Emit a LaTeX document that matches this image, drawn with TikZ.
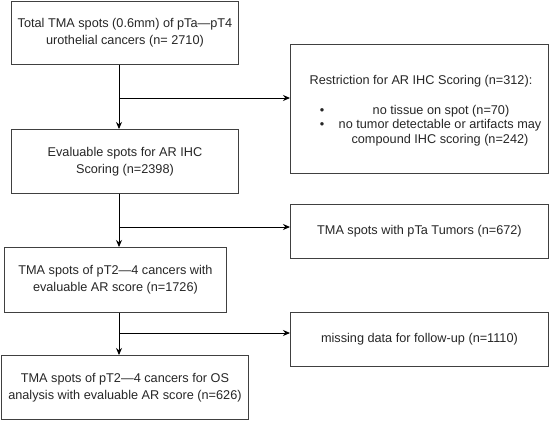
\documentclass[tikz,border=0pt]{standalone}
\usepackage{fontspec}
\setmainfont{Liberation Sans}
\usetikzlibrary{arrows.meta}
\begin{document}
\begin{tikzpicture}[x=1pt,y=-1pt,
  box/.style={draw=black!75, line width=0.9pt, anchor=north west, inner sep=0pt, align=center, font=\fontsize{12.7}{17}\selectfont, text=black!85},
  conn/.style={draw=black, line width=0.9pt},
  arr/.style={conn, -{Stealth[length=7pt,width=6pt]}},
  txt/.style={font=\fontsize{12.7}{15}\selectfont, inner sep=0pt, anchor=base, text=black!85}]
\useasboundingbox (0,0) rectangle (550,421);
\node[box, minimum width=227pt, minimum height=63pt] (b1) at (11,1) {Total TMA spots (0.6mm) of pTa—pT4\\urothelial cancers (n= 2710)};
\node[box, minimum width=258pt, minimum height=129pt] (b2) at (290,44) {};
\node[box, minimum width=227pt, minimum height=64pt] (b3) at (11,129) {Evaluable spots for AR IHC\\Scoring (n=2398)};
\node[box, minimum width=258pt, minimum height=54pt] (b4) at (290,204) {TMA spots with pTa Tumors (n=672)};
\node[box, minimum width=222pt, minimum height=65pt] (b5) at (4,247) {TMA spots of pT2—4 cancers with\\evaluable AR score (n=1726)};
\node[box, minimum width=258pt, minimum height=54pt] (b6) at (290,312) {missing data for follow-up (n=1110)};
\node[box, minimum width=247pt, minimum height=64pt] (b7) at (1,355) {TMA spots of pT2—4 cancers for OS\\analysis with evaluable AR score (n=626)};
% restriction box content
\node[txt] (r0) at (421,84) {Restriction for AR IHC Scoring (n=312):};
\node[txt] (bu1) at (322,114) {•};
\node[txt] (r1) at (441,114) {no tissue on spot (n=70)};
\node[txt] (bu2) at (322,128.5) {•};
\node[txt] (r2) at (440,128.5) {no tumor detectable or artifacts may};
\node[txt] (r3) at (440,143) {compound IHC scoring (n=242)};
% connectors
\coordinate (j1) at (119,98);
\coordinate (j2) at (119,227);
\coordinate (j3) at (119,333);
\draw[arr] (b1.south -| j1) -- (b3.north -| j1);
\draw[arr] (j1) -- (j1 -| b2.west);
\draw[arr] (b3.south -| j2) -- (b5.north -| j2);
\draw[arr] (j2) -- (j2 -| b4.west);
\draw[arr] (b5.south -| j3) -- (b7.north -| j3);
\draw[arr] (j3) -- (j3 -| b6.west);
\end{tikzpicture}
\end{document}
